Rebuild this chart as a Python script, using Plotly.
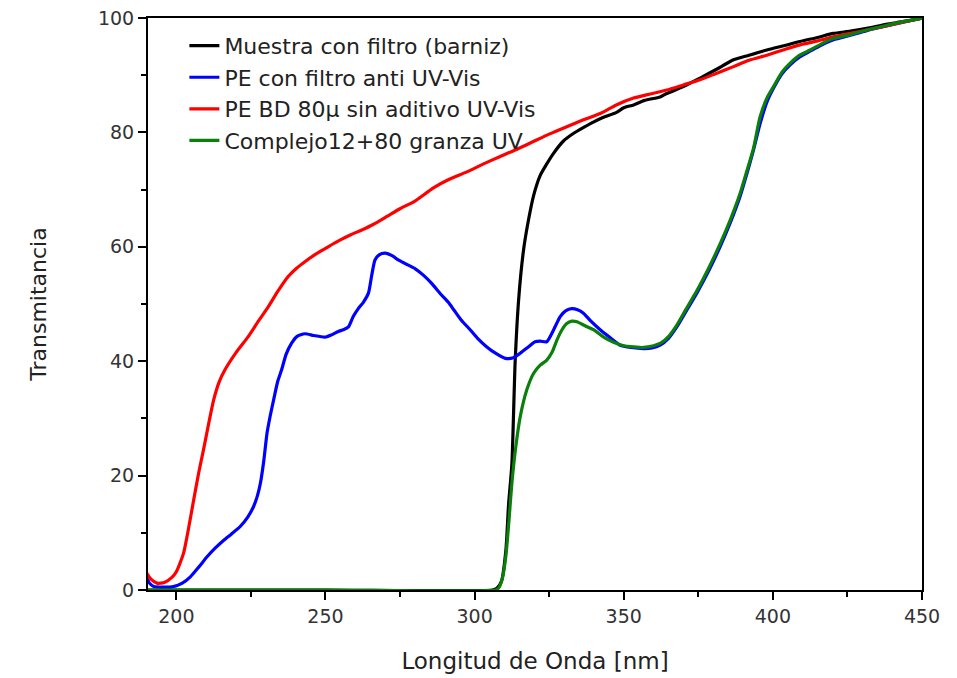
import plotly.graph_objects as go

# ---- data ----
names = ["Muestra con filtro (barniz)", "PE con filtro anti UV-Vis",
         "PE BD 80\u03bc sin aditivo UV-Vis", "Complejo12+80 granza UV"]

black_x = [190, 250, 306, 307.5, 309, 310.5, 311.4, 312.5, 313.6, 314.8, 316.4, 318, 319.8, 322,
           324.2, 326.4, 329.8, 333.1, 337, 339.8, 343, 347.6, 350, 353.3, 357, 362.2, 364.4,
           370, 375.6, 381, 386.8, 392, 398, 404, 409.1, 415, 420.3, 426, 431.5, 438, 444, 450]
black_y = [0, 0, 0, 0.3, 1.5, 7, 15, 22, 40, 51, 59.4, 64.5, 69, 72.5,
           74.5, 76.3, 78.5, 79.8, 81, 81.8, 82.6, 83.5, 84.3, 84.8, 85.6, 86.2, 86.8,
           88, 89.5, 91, 92.7, 93.5, 94.4, 95.2, 95.9, 96.6, 97.3, 97.7, 98.2, 98.9, 99.4, 100]

blue_x = [190, 191, 192.4, 196, 199, 202, 204.7, 207.5, 210.3, 213, 215.9, 218.5, 221.4, 224,
          225.9, 227.2, 228.2, 229.3, 230.4, 231.5, 232.6, 234, 235.3, 236.8, 238.6, 240.4,
          243.1, 246, 249.8, 252, 254.3, 256, 257.7, 259.3, 261, 262.7, 264.4, 265.5, 266.6,
          268, 270, 272.5, 274.4, 277, 280, 282.9, 285.6, 288.5, 291.2, 293, 295.5, 298.5,
          301, 304.1, 307, 310.3, 313, 315.3, 318, 320.3, 322, 324.2, 326.5, 328.7, 330.5,
          332.6, 334.5, 336.5, 339, 342.1, 345.5, 348.8, 352.5, 356.6, 359.5, 362.2, 365,
          367.8, 371, 374.5, 378.5, 382.3, 385.8, 389, 391.3, 393.5, 395.7, 398, 400.2, 403,
          405.8, 409, 412.5, 416, 420.3, 426, 431.5, 438, 444, 450]
blue_y = [2.3, 1.2, 0.6, 0.5, 0.6, 1.2, 2.3, 4, 5.8, 7.3, 8.7, 9.8, 11.1, 12.8,
          14.6, 16.5, 18.7, 22.5, 27.4, 30.5, 33.2, 36.5, 38.5, 41.2, 43.1, 44.3,
          44.8, 44.5, 44.2, 44.6, 45.2, 45.5, 46.0, 47.8, 49.2, 50.3, 51.9, 55, 57.7,
          58.6, 58.9, 58.4, 57.7, 57, 56.2, 55, 53.6, 51.8, 50.3, 49, 47.2, 45.5,
          44, 42.5, 41.4, 40.5, 40.6, 41.4, 42.5, 43.4, 43.5, 43.4, 45.5, 47.8, 48.8,
          49.2, 49, 48.4, 47, 45.5, 44.1, 42.8, 42.4, 42.2, 42.3, 42.8, 44,
          46, 48.8, 51.9, 55.8, 60, 64.3, 68.8, 72.8, 76.9, 81.5, 85.3, 87.7, 90.2,
          91.8, 93.2, 94.2, 95.2, 96.2, 97, 97.8, 98.6, 99.3, 100]

red_x = [190, 191.5, 193.5, 196, 198.5, 200, 202.4, 204, 205.8, 207.5, 209.1, 211, 212.5, 214.3,
         216.3, 220, 224.1, 227.5, 230.8, 234, 237.5, 240.4, 243.1, 247, 250.9, 255, 258.5,
         262, 266, 270.6, 275.1, 280, 286.2, 291.5, 297.4, 303, 308.6, 314, 319.7, 325, 330.9,
         336.5, 342.1, 347.5, 353.3, 358, 364.4, 370, 375.6, 381, 386.8, 392, 398, 404, 409.1,
         415, 420.3, 426, 431.5, 438, 444, 450]
red_y = [3.0, 1.9, 1.2, 1.3, 2.2, 3.2, 6.4, 10.5, 15.7, 20.5, 24.5, 29.5, 33.2, 36.3,
         38.5, 41.5, 44.3, 47, 49.5, 52.2, 54.8, 56.3, 57.4, 58.8, 60.0, 61.2, 62.1,
         62.9, 63.9, 65.3, 66.7, 68.0, 70.3, 71.8, 73.1, 74.5, 75.8, 77.0, 78.4, 79.7, 81.0,
         82.2, 83.3, 84.8, 86.0, 86.6, 87.4, 88.3, 89.2, 90.3, 91.5, 92.6, 93.5, 94.5, 95.3,
         96.0, 96.7, 97.3, 97.9, 98.6, 99.3, 100]

green_x = [190, 250, 307, 308, 309.3, 310.5, 311.5, 312.5, 313.8, 315.3, 317.5, 319.8, 322, 324.2,
           326, 327.6, 329.3, 330.9, 332.6, 334.3, 337, 339.9, 343, 346.6, 350, 353.3, 356.6,
           360, 362.5, 365, 367.8, 371, 374.5, 378.5, 382.3, 385.8, 389, 391.3, 393.5, 395.7,
           398, 400.2, 403, 405.8, 409, 412.5, 416, 420.3, 426, 431.5, 438, 444, 450]
green_y = [0, 0, 0, 0.3, 2, 6, 12, 18.7, 25, 30.3, 35, 37.9, 39.3, 40.2,
           41.6, 43.7, 45.5, 46.6, 47, 46.9, 46.2, 45.5, 44.3, 43.3, 42.7, 42.5, 42.4,
           42.7, 43.2, 44.3, 46.3, 49.2, 52.3, 56.3, 60.5, 64.8, 69.3, 73.3, 77.2, 82.7,
           86, 88, 90.5, 92.1, 93.5, 94.4, 95.4, 96.4, 97.1, 97.9, 98.7, 99.4, 100]

colors = ["#000000", "#0000ff", "#ff0000", "#0a7f0a"]
series = [(black_x, black_y), (blue_x, blue_y), (red_x, red_y), (green_x, green_y)]

fig = go.Figure()
for (xs, ys), name, c in zip(series, names, colors):
    fig.add_trace(go.Scatter(x=xs, y=ys, mode="lines", name=name,
                             line=dict(color=c, width=3.2, shape="spline", smoothing=0.6)))

FONT = "DejaVu Sans"
axis_common = dict(showline=True, linecolor="black", linewidth=2, mirror=True,
                   showgrid=False, zeroline=False, ticks="outside", ticklen=8,
                   tickwidth=2, tickcolor="black",
                   tickfont=dict(family=FONT, size=19, color="#333333"))

fig.update_xaxes(range=[190.5, 450], tickvals=[200, 250, 300, 350, 400, 450],
                 minor=dict(ticks="outside", ticklen=5, tickwidth=2, tickcolor="black",
                            tickvals=[225, 275, 325, 375, 425]),
                 title=dict(text="Longitud de Onda [nm]", standoff=27,
                            font=dict(family=FONT, size=23, color="#222222")),
                 **axis_common)
fig.update_yaxes(range=[0, 100], tickvals=[0, 20, 40, 60, 80, 100],
                 minor=dict(ticks="outside", ticklen=5, tickwidth=2, tickcolor="black",
                            tickvals=[10, 30, 50, 70, 90]),
                 title=dict(text="Transmitancia", standoff=45,
                            font=dict(family=FONT, size=22, color="#222222")),
                 **axis_common)

fig.update_layout(
    width=957, height=678,
    margin=dict(l=148, r=35, t=18, b=88, autoexpand=False),
    paper_bgcolor="white", plot_bgcolor="white",
    showlegend=True,
    legend=dict(x=0.047, y=0.988, xanchor="left", yanchor="top",
                bgcolor="rgba(0,0,0,0)", borderwidth=0,
                font=dict(family=FONT, size=22, color="#222222"),
                tracegroupgap=0),
)

fig.write_html("out.html")
